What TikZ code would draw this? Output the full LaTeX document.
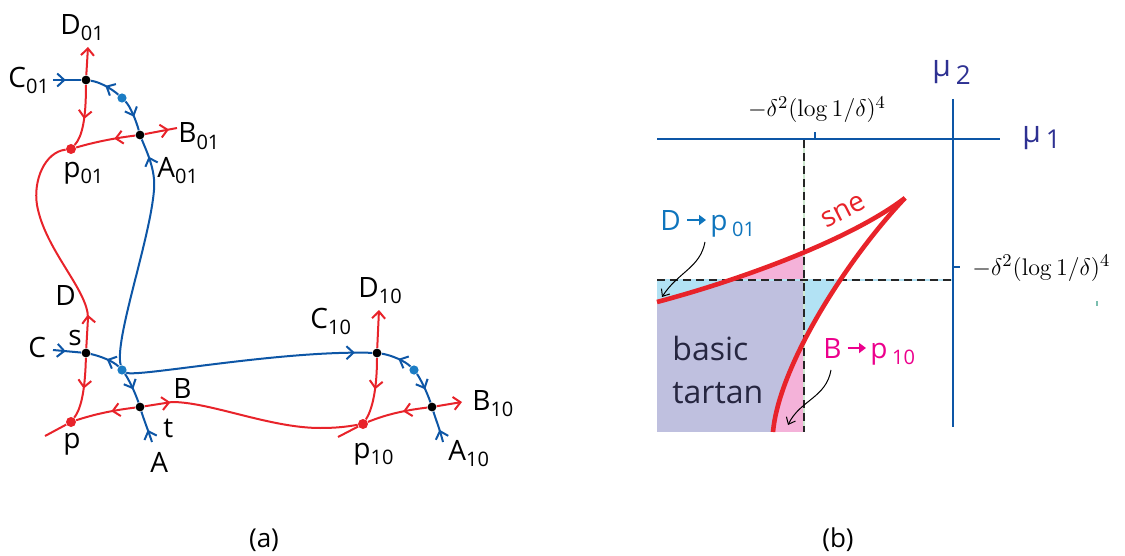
\documentclass[tikz,border=0pt]{standalone}
\usepackage[no-math]{fontspec}
\setmainfont{Open Sans}
\usepackage{amsmath}
\usepackage{tikz}
\usetikzlibrary{arrows.meta, decorations.markings}
\definecolor{mred}{HTML}{E8232A}
\definecolor{mblue}{HTML}{0D56A6}
\definecolor{dotblue}{HTML}{1B7CC4}
\definecolor{axisnavy}{HTML}{2E3192}
\definecolor{lblue}{HTML}{0F75BD}
\definecolor{mmag}{HTML}{EC008C}
\definecolor{tartan}{HTML}{BFC0DF}
\definecolor{tpink}{HTML}{F4B2D9}
\definecolor{tcyan}{HTML}{B2E2F4}
\definecolor{tgreen}{HTML}{CDE8CF}
\definecolor{tdark}{HTML}{262640}
\newcommand{\lsub}[1]{\raisebox{-3pt}{\fontsize{10}{12}\selectfont #1}}
\tikzset{
  fwd/.style={postaction={decorate, decoration={markings, mark=at position #1 with {\arrow{Straight Barb[length=3.5pt,width=6.5pt]}}}}},
  bwd/.style={postaction={decorate, decoration={markings, mark=at position #1 with {\arrowreversed{Straight Barb[length=3.5pt,width=6.5pt]}}}}},
  barb/.style={-{Straight Barb[length=3.5pt,width=6.5pt]}},
  wred/.style={mred, line width=1pt},
  wblue/.style={mblue, line width=1pt},
  jdot/.style={circle, fill=black, inner sep=0pt, minimum size=4.4pt},
  rdot/.style={circle, fill=mred, inner sep=0pt, minimum size=5pt},
  bdot/.style={circle, fill=dotblue, inner sep=0pt, minimum size=4.6pt},
  lab/.style={anchor=base west, inner sep=0pt, font=\fontsize{14}{16}\selectfont},
}

\begin{document}
\begin{tikzpicture}[x=0.5pt, y=-0.5pt]
\useasboundingbox (0,0) rectangle (1125,556);

% (a) top cluster
\node[jdot] (jc01) at (86,80) {};
\node[jdot] (jb01) at (140,135) {};
\node[bdot] (bd01) at (122,98) {};
\node[rdot] (p01) at (71,149) {};
\coordinate (D01tip) at (88,47);
\coordinate (C01end) at (53,80);
\coordinate (B01tip) at (177,128);
\draw[wred, barb] (jc01) -- (D01tip);
\draw[wred, fwd=0.55] (jc01) .. controls (86,120) and (82,137) .. (p01);
\draw[wred, fwd=0.35] (jb01) .. controls (115,138) and (95,142) .. (p01);
\draw[wred, fwd=0.75] (jb01) -- (B01tip);
\draw[wblue, fwd=0.45] (C01end) -- (jc01);
\draw[wblue, bwd=0.5] (jc01) .. controls (100,82) and (112,89) .. (bd01);
\draw[wblue, fwd=0.55] (bd01) .. controls (130,106) and (136,120) .. (jb01);
\node[lab] (D01lab) at (60,35) {D\lsub{01}};
\node[lab] (C01lab) at (8,88) {C\lsub{01}};
\node[lab] (B01lab) at (178,143) {B\lsub{01}};
\node[lab] (p01lab) at (63,177) {p\lsub{01}};
\node[lab] (A01lab) at (157,177) {A\lsub{01}};

% (a) main cluster
\node[jdot] (s) at (86,353) {};
\node[jdot] (t) at (140,407) {};
\node[bdot] (bd) at (122,370) {};
\node[rdot] (p) at (71,422) {};
\coordinate (Cend) at (53,350);
\coordinate (Dturn) at (88,318);
\coordinate (pend) at (45,436);
\coordinate (Aend) at (152,442);
\coordinate (Bturn) at (172,402);
\draw[wred, fwd=0.15] (s) -- (Dturn) .. controls (88,290) and (45,250) .. (37,205)
  .. controls (33,180) and (45,152) .. (p01);
\draw[wred, fwd=0.5] (s) .. controls (85,395) and (80,410) .. (p);
\draw[wred, fwd=0.4] (t) .. controls (115,410) and (95,414) .. (p);
\draw[wred] (p) -- (pend);
\draw[wblue, fwd=0.45] (Cend) -- (s);
\draw[wblue, bwd=0.55] (s) .. controls (100,356) and (113,361) .. (bd);
\draw[wblue, fwd=0.55] (bd) .. controls (128,378) and (135,392) .. (t);
\draw[wblue, bwd=0.6] (t) .. controls (144,420) and (148,430) .. (Aend);
\draw[wblue, fwd=0.92] (bd) .. controls (114,340) and (150,240) .. (154,190)
  .. controls (156,170) and (146,150) .. (jb01);
\node[lab] (Dlab) at (55,305) {D};
\node[lab] (slab) at (68,345) {s};
\node[lab] (Clab) at (28,357) {C};
\node[lab] (Blab) at (173,398) {B};
\node[lab] (tlab) at (163,437) {t};
\node[lab] (plab) at (63,448) {p};
\node[lab] (Alab) at (150,472) {A};

% (a) right cluster
\node[jdot] (jc10) at (377,353) {};
\node[jdot] (jb10) at (432,407) {};
\node[bdot] (bd10) at (414,370) {};
\node[rdot] (p10) at (363,424) {};
\coordinate (D10tip) at (379,310);
\coordinate (B10tip) at (462,402);
\coordinate (A10end) at (443,442);
\coordinate (p10end) at (338,437);
\draw[wred, fwd=0.12] (t) -- (Bturn) .. controls (210,402) and (270,428) .. (320,428)
  .. controls (340,428) and (350,426) .. (p10);
\draw[wred, barb] (jc10) -- (D10tip);
\draw[wred, fwd=0.5] (jc10) .. controls (377,390) and (372,410) .. (p10);
\draw[wred, fwd=0.4] (jb10) .. controls (407,410) and (387,414) .. (p10);
\draw[wred, barb] (jb10) -- (B10tip);
\draw[wred] (p10) -- (p10end);
\draw[wblue, fwd=0.93] (bd) .. controls (135,378) and (280,350) .. (jc10);
\draw[wblue, bwd=0.55] (jc10) .. controls (391,355) and (405,361) .. (bd10);
\draw[wblue, fwd=0.55] (bd10) .. controls (420,378) and (427,392) .. (jb10);
\draw[wblue, bwd=0.6] (jb10) .. controls (436,420) and (440,430) .. (A10end);
\node[lab] (D10lab) at (358,297) {D\lsub{10}};
\node[lab] (C10lab) at (310,328) {C\lsub{10}};
\node[lab] (B10lab) at (472,410) {B\lsub{10}};
\node[lab] (p10lab) at (353,458) {p\lsub{10}};
\node[lab] (A10lab) at (448,460) {A\lsub{10}};

\node[font=\fontsize{13}{15}\selectfont] (capa) at (264,540) {(a)};
\node[font=\fontsize{13}{15}\selectfont] (capb) at (838,540) {(b)};

% (b) shaded regions
\fill[tcyan] (657,280) rectangle (804,320);
\fill[tpink] (657,320) rectangle (804,432);
\begin{scope}
\clip (657,302) .. controls (740,280) and (850,240) .. (905,198)
  .. controls (848,258) and (779,365) .. (773,432) -- (657,432) -- cycle;
\fill[tpink] (657,150) rectangle (804,280);
\fill[tcyan] (804,280) rectangle (950,432);
\fill[tartan] (657,280) rectangle (804,432);
\end{scope}

\draw[tgreen, line width=1pt] (804,140) -- (804,432);
\draw[tcyan, line width=1pt] (657,280) -- (953,280);
\draw[black!85, line width=1pt, dash pattern=on 4pt off 2.5pt] (804,140) -- (804,432);
\draw[black!85, line width=1pt, dash pattern=on 4pt off 2.5pt] (657,280) -- (953,280);

\draw[mred, line width=2.3pt] (657,302) .. controls (740,280) and (850,240) .. (905,198);
\draw[mred, line width=2.3pt] (905,198) .. controls (848,258) and (779,365) .. (773,432);

\draw[mblue, line width=1pt] (657,139) -- (1000,139);
\draw[mblue, line width=1pt] (953,99) -- (953,427);
\draw[mblue, line width=1pt] (815,139) -- (815,132);
\draw[mblue, line width=1pt] (953,267) -- (960,267);
\draw[tgreen!60!teal, line width=0.8pt] (1097,301) -- (1097,306);

\node[anchor=base west, inner sep=0pt, text=axisnavy, font=\fontsize{15}{17}\selectfont] (mu1) at (1022,142) {μ\,\raisebox{-3pt}{\fontsize{13}{15}\selectfont 1}};
\node[anchor=base west, inner sep=0pt, text=axisnavy, font=\fontsize{15}{17}\selectfont] (mu2) at (932,77) {μ\,\raisebox{-4pt}{\fontsize{13}{15}\selectfont 2}};
\node[anchor=base, inner sep=0pt, font=\fontsize{13}{15}\selectfont] (topval) at (817,117) {$-\delta^2(\log 1/\delta)^4$};
\node[anchor=base west, inner sep=0pt, font=\fontsize{13}{15}\selectfont] (rightval) at (972,275) {$-\delta^2(\log 1/\delta)^4$};

\node[anchor=base, inner sep=0pt, text=mred, rotate=27, font=\fontsize{14}{16}\selectfont] (sne) at (847,218) {sne};

\node[lab, text=lblue] (Dtxt) at (660,230) {D};
\node[lab, text=lblue] (pDtxt) at (710,230) {p\,\lsub{01}};
\draw[lblue, line width=1.1pt, -{Triangle[length=3.5pt,width=5pt]}, shorten <=3pt, shorten >=2pt] (Dtxt.east) -- (Dtxt.east -| pDtxt.west);
\node[lab, text=mmag] (Btxt) at (823,358) {B};
\node[lab, text=mmag] (pBtxt) at (870,358) {p\,\lsub{10}};
\draw[mmag, line width=1.1pt, -{Triangle[length=3.5pt,width=5pt]}, shorten <=3pt, shorten >=2pt] (Btxt.east) -- (Btxt.east -| pBtxt.west);

\node[lab, text=tdark, font=\fontsize{16}{18}\selectfont] (basic) at (672,360) {basic};
\node[lab, text=tdark, font=\fontsize{16}{18}\selectfont] (tart) at (672,403) {tartan};

\coordinate (Dfoot) at (705,242);
\coordinate (Dhit) at (662,297);
\coordinate (Bfoot) at (831,370);
\coordinate (Bhit) at (788,425);
\draw[black, line width=0.5pt, -{Straight Barb[length=3pt,width=5pt]}] (Dfoot) .. controls (700,268) and (678,272) .. (Dhit);
\draw[black, line width=0.5pt, -{Straight Barb[length=3pt,width=5pt]}] (Bfoot) .. controls (826,398) and (800,400) .. (Bhit);
\end{tikzpicture}
\end{document}
